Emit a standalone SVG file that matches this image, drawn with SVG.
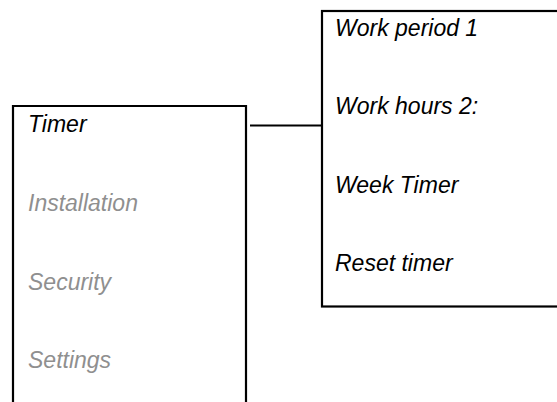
<svg xmlns="http://www.w3.org/2000/svg" width="557" height="402" viewBox="0 0 557 402">
<style>
.box{fill:#fff;stroke:#000;stroke-width:2.2}
.t{font-family:"Liberation Sans",Arial,sans-serif;font-style:italic;font-size:23px;fill:#000}
.g{fill:#8f8f8f}
.c{stroke:#000;stroke-width:2.2;fill:none}
</style>
<rect width="557" height="402" fill="#fff"/>
<g id="connectors">
<line class="c" x1="250" y1="125.5" x2="322" y2="125.5"/>
</g>
<g id="main-menu">
<path class="box" d="M13,410 V106 H246 V410"/>
<text class="t" x="28" y="132">Timer</text>
<text class="t g" x="28" y="211">Installation</text>
<text class="t g" x="28" y="289.5">Security</text>
<text class="t g" x="28" y="368">Settings</text>
</g>
<g id="timer-menu">
<rect class="box" x="322" y="11" width="245" height="295.5"/>
<text class="t" x="335" y="36">Work period 1</text>
<text class="t" x="335" y="114">Work hours 2:</text>
<text class="t" x="335" y="192.5">Week Timer</text>
<text class="t" x="335" y="271">Reset timer</text>
</g>
</svg>
